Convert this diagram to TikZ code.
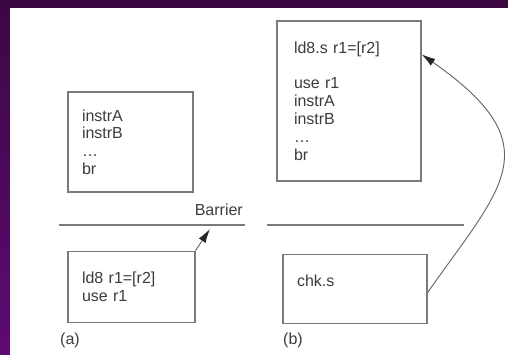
\documentclass[tikz,border=0pt]{standalone}
\usepackage{fontspec}
\setmainfont{Liberation Sans}
\usetikzlibrary{arrows.meta,calc,positioning}
\definecolor{slidetop}{HTML}{3B0842}
\definecolor{slidebot}{HTML}{5E0A74}
\definecolor{boxgray}{HTML}{7A7A7A}
\definecolor{inkgray}{HTML}{3C3C3C}
\newcommand{\codefont}{\fontsize{16pt}{17.8pt}\selectfont}
\tikzset{
	slide/.style={x=1pt, y=1pt, font=\codefont, text=inkgray},
	blk/.style={draw=boxgray, line width=1.1pt, align=left,
		inner xsep=14pt, inner ysep=0pt, text width=#1},
	barrier/.style={draw=boxgray, line width=1.6pt},
	ar/.style={draw=boxgray!80!black, line width=0.9pt,
		-{Latex[length=14pt,width=8pt,color=black!85]}},
	tag/.style={inner sep=0pt}
}

\begin{document}
\begin{tikzpicture}[slide]
   % slide frame
   \useasboundingbox (0,0) rectangle (508,354);
   \shade[top color=slidetop, bottom color=slidebot] (0,0) rectangle (508,354);
   \fill[white] (10,-2) rectangle (510,346);
   % (a) load stays below the barrier
   \node[blk=97pt, minimum height=100pt] (instrA) at (130.5,212) {instrA\\instrB\\\ldots\\br};
   \node[blk=99pt, minimum height=71pt, below=58pt of instrA, xshift=1pt] (ldA) {ld8 r1=[r2]\\use r1};
   \draw[barrier] (59,129) -- (245,129);
   \node[tag, anchor=east] (barA) at (243,144) {Barrier};
   \coordinate (stopA) at (210,125);
   \draw[ar] (ldA.north east) -- (stopA);
   \node[tag] (capA) at (70,14) {(a)};
   % (b) speculative load hoisted, check left behind
   \node[blk=110pt, inner xsep=17pt, minimum height=160pt] (ldB) at (349,253)
      {ld8.s r1=[r2]\\[17.8pt]use r1\\instrA\\instrB\\\ldots\\br};
   \node[blk=116pt, minimum height=69pt, text depth=15pt, below=72pt of ldB, xshift=6pt] (chk) {chk.s};
   \draw[barrier] (267,129) -- (464,129);
   \draw[ar] ([yshift=-4pt]chk.east) to[out=55, in=-35, out distance=130pt, in distance=160pt]
      ($(ldB.north east)!0.21!(ldB.south east)$);
   \node[tag] (capB) at (293,14) {(b)};
\end{tikzpicture}
\end{document}
